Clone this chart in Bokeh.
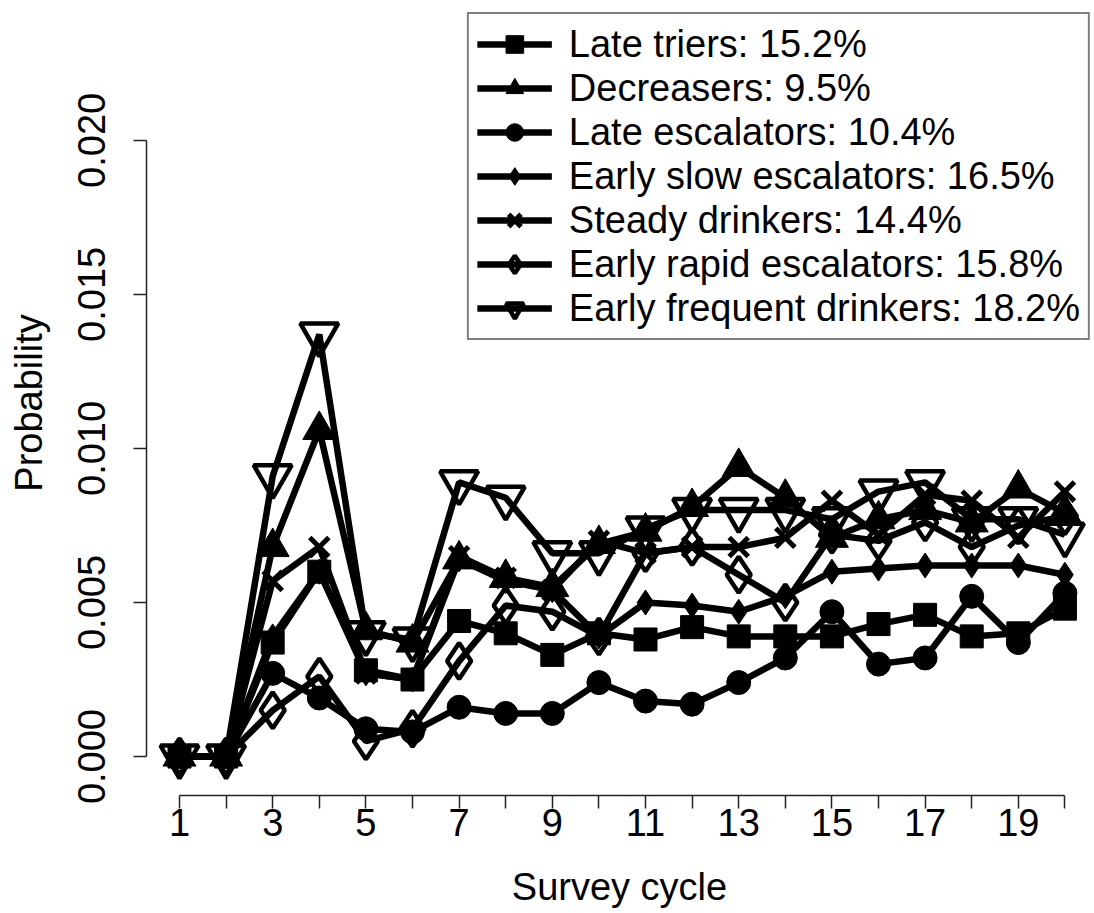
import numpy as np
from bokeh.plotting import figure
from bokeh.models import Range1d, FixedTicker, CustomJSTickFormatter, Legend
from bokeh.embed import file_html
from bokeh.resources import INLINE

cycles = list(range(1, 21))

late_triers = [0, 0, 0.0037, 0.0060, 0.0028, 0.0025, 0.0044, 0.0040, 0.0033, 0.0040,
               0.0038, 0.0042, 0.0039, 0.0039, 0.0039, 0.0043, 0.0046, 0.0039, 0.0040, 0.0048]
decreasers = [0, 0, 0.0068, 0.0106, 0.0041, 0.0037, 0.0064, 0.0058, 0.0055, 0.0069,
              0.0073, 0.0081, 0.0094, 0.0084, 0.0071, 0.0077, 0.0080, 0.0076, 0.0087, 0.0079]
late_escalators = [0, 0, 0.0027, 0.0019, 0.0009, 0.0008, 0.0016, 0.0014, 0.0014, 0.0024,
                   0.0018, 0.0017, 0.0024, 0.0032, 0.0047, 0.0030, 0.0032, 0.0052, 0.0037, 0.0053]
early_slow = [0, 0, 0.0039, 0.0060, 0.0027, 0.0025, 0.0064, 0.0057, 0.0054, 0.0039,
              0.0050, 0.0049, 0.0047, 0.0052, 0.0060, 0.0061, 0.0062, 0.0062, 0.0062, 0.0059]
steady = [0, 0, 0.0057, 0.0068, 0.0027, 0.0025, 0.0065, 0.0058, 0.0054, 0.0070,
          0.0066, 0.0068, 0.0068, 0.0071, 0.0083, 0.0072, 0.0085, 0.0083, 0.0071, 0.0086]
early_rapid = [0, 0, 0.0015, 0.0026, 0.0005, 0.0009, 0.0031, 0.0049, 0.0047, 0.0039,
               0.0066, 0.0068, 0.0059, 0.0050, 0.0072, 0.0070, 0.0076, 0.0068, 0.0075, 0.0078]
early_frequent = [0, 0, 0.0091, 0.0137, 0.0040, 0.0038, 0.0089, 0.0084, 0.0066, 0.0066,
                  0.0074, 0.0080, 0.0080, 0.0080, 0.0077, 0.0086, 0.0089, 0.0077, 0.0077, 0.0072]

labels = ["Late triers: 15.2%", "Decreasers: 9.5%", "Late escalators: 10.4%",
          "Early slow escalators: 16.5%", "Steady drinkers: 14.4%",
          "Early rapid escalators: 15.8%", "Early frequent drinkers: 18.2%"]
y_ticks = [0.0, 0.005, 0.010, 0.015, 0.020]

FONT = "Liberation Sans"
FS = "38px"

p = figure(width=1092, height=910, output_backend="svg", toolbar_location=None,
           x_range=Range1d(0.292, 20.592), y_range=Range1d(-0.001264, 0.024214),
           min_border_left=146, min_border_right=0, min_border_top=10, min_border_bottom=114)
p.outline_line_color = None
p.xgrid.visible = False
p.ygrid.visible = False
p.background_fill_color = "white"
p.border_fill_color = "white"

# axes
p.xaxis.ticker = FixedTicker(ticks=cycles)
p.xaxis.formatter = CustomJSTickFormatter(code="return (Math.round(tick) % 2 == 1) ? tick.toFixed(0) : '';")
p.xaxis.bounds = (1, 20)
p.yaxis.ticker = FixedTicker(ticks=y_ticks)
p.yaxis.formatter = CustomJSTickFormatter(code="return tick.toFixed(3);")
p.yaxis.bounds = (0, 0.02)
p.yaxis.major_label_orientation = "vertical"
for ax in (p.xaxis[0], p.yaxis[0]):
    ax.axis_line_color = "#222222"
    ax.axis_line_width = 1.5
    ax.major_tick_line_color = "#222222"
    ax.major_tick_line_width = 1.5
    ax.major_tick_out = 13
    ax.major_tick_in = 0
    ax.minor_tick_line_color = None
    ax.major_label_text_font = FONT
    ax.major_label_text_font_size = FS
    ax.major_label_text_color = "black"
    ax.axis_label_text_font = FONT
    ax.axis_label_text_font_size = FS
    ax.axis_label_text_font_style = "normal"
    ax.axis_label_text_color = "black"
p.xaxis.axis_label = "Survey cycle"
p.yaxis.axis_label = "Probability"
p.xaxis.major_label_standoff = 0
p.yaxis.major_label_standoff = 28
p.xaxis.axis_label_standoff = 27
p.yaxis.axis_label_standoff = 26

LW = 6.5
series = [
    (late_triers, dict(marker="square", size=23, fill_color="black", line_color="black", line_width=1)),
    (decreasers, dict(marker="triangle", size=33, fill_color="black", line_color="black", line_width=1)),
    (late_escalators, dict(marker="circle", size=24, fill_color="black", line_color="black", line_width=1)),
    (early_slow, dict(marker="diamond", size=25, fill_color="black", line_color="black", line_width=1)),
    (steady, dict(marker="x", size=27, line_color="black", line_width=5)),
    (early_rapid, dict(marker="diamond", size=36, fill_alpha=0, line_color="black", line_width=4.5)),
    (early_frequent, dict(marker="inverted_triangle", size=38, fill_alpha=0, line_color="black", line_width=4.5)),
]

items = []
for (vals, mk), lab in zip(series, labels):
    r1 = p.line(cycles, vals, line_color="black", line_width=LW)
    r2 = p.scatter(cycles, vals, **mk)
    items.append((lab, [r1, r2]))

legend = Legend(items=items, location="top_right")
legend.label_text_font = FONT
legend.label_text_font_size = FS
legend.label_text_color = "black"
legend.glyph_width = 75
legend.glyph_height = 44
legend.label_height = 44
legend.label_standoff = 17
legend.spacing = 0
legend.padding = 8
legend.margin = 2
legend.border_line_color = "black"
legend.border_line_width = 2
legend.background_fill_color = "white"
legend.background_fill_alpha = 1
p.add_layout(legend, "center")

open("out.html", "w").write(file_html(p, INLINE))
